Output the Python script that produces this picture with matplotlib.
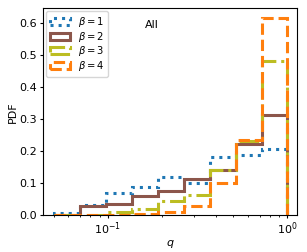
import matplotlib
matplotlib.use("Agg")
import matplotlib.pyplot as plt
import numpy as np

# bin edges in q (log spaced, 0.05 .. 1)
edges = [0.05, 0.0698, 0.0973, 0.1357, 0.1894, 0.2642, 0.3685, 0.5141, 0.7172, 1.0]

# fraction per bin for each beta
pdf_b1 = [0.009, 0.034, 0.070, 0.090, 0.120, 0.100, 0.184, 0.188, 0.207]
pdf_b2 = [0.002, 0.030, 0.037, 0.062, 0.077, 0.113, 0.142, 0.223, 0.314]
pdf_b3 = [0.000, 0.002, 0.011, 0.019, 0.046, 0.064, 0.142, 0.234, 0.484]
pdf_b4 = [0.001, 0.001, 0.002, 0.006, 0.011, 0.030, 0.102, 0.236, 0.616]

labels = [r"$\beta = 1$", r"$\beta = 2$", r"$\beta = 3$", r"$\beta = 4$"]
colors = ["tab:blue", "tab:brown", "tab:olive", "tab:orange"]
styles = [":", "-", "-.", "--"]

plt.rcParams["font.size"] = 8
for a in ["xtick", "ytick"]:
    plt.rcParams[a + ".major.size"] = 2.5
    plt.rcParams[a + ".minor.size"] = 1.5
plt.rcParams["xtick.major.pad"] = 0.8
plt.rcParams["ytick.major.pad"] = 2.0
plt.rcParams["axes.labelpad"] = 1.0

fig = plt.figure(figsize=(3.07, 2.52), dpi=100)
ax = fig.add_axes([0.14, 0.145, 0.827, 0.823])

# bin centres (geometric) used as sample positions, weighted by bin fraction
centres = np.sqrt(np.array(edges[:-1]) * np.array(edges[1:]))
for vals, lab, c, ls in zip([pdf_b1, pdf_b2, pdf_b3, pdf_b4], labels, colors, styles):
    ax.hist(centres, bins=edges, weights=vals, histtype="step",
            color=c, linestyle=ls, linewidth=2.2, label=lab)

ax.set_xscale("log")
ax.set_xlim(0.0435, 1.128)
ax.set_ylim(0, 0.648)
ax.set_yticks([0.0, 0.1, 0.2, 0.3, 0.4, 0.5, 0.6])
ax.set_xlabel("$q$")
ax.set_ylabel("PDF")
ax.text(0.40, 0.92, "All", transform=ax.transAxes, va="center")
ax.legend(loc="upper left", fontsize=7.2, labelspacing=0.05, borderaxespad=0.3)

fig.savefig("out.png", dpi=100)
